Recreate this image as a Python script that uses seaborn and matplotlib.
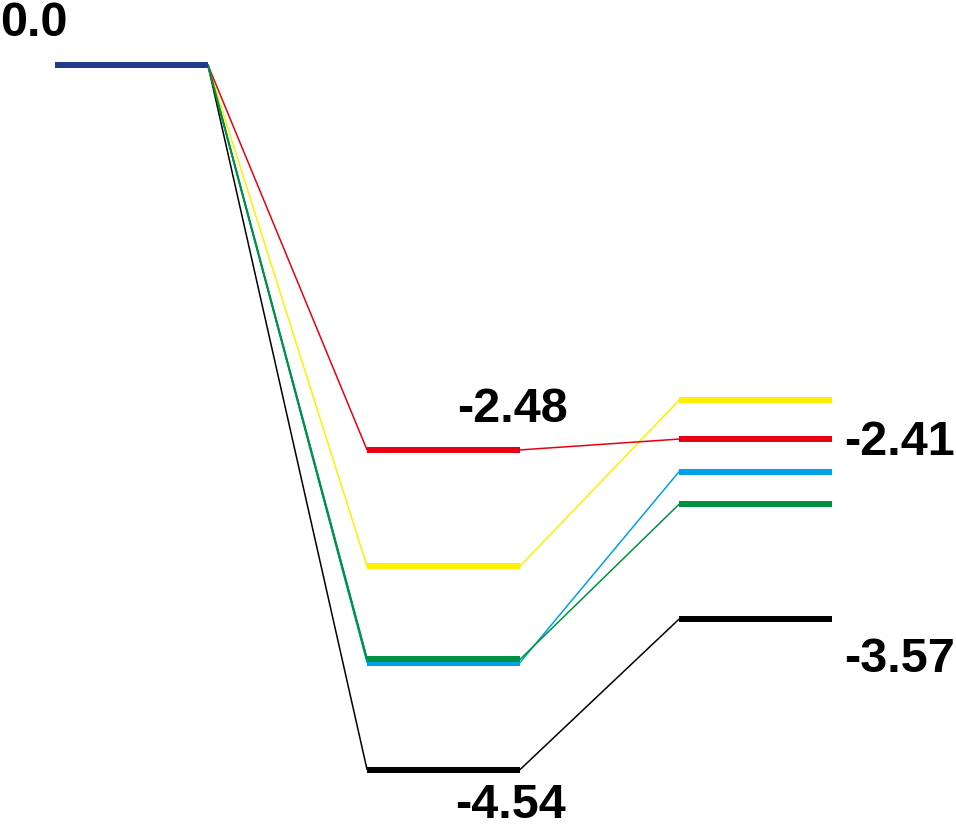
import matplotlib
matplotlib.use("Agg")
import matplotlib.pyplot as plt
import seaborn as sns
import pandas as pd

# energies (eV) per pathway at stage 0,1,2
pathways = ["blue", "black", "green", "yellow", "red"]
stage0 = [0.0, 0.0, 0.0, 0.0, 0.0]
stage1 = [-3.85, -4.54, -3.83, -3.23, -2.48]
stage2 = [-2.62, -3.57, -2.83, -2.16, -2.41]
colors = {"blue": "#00A0E9", "black": "#000000", "green": "#009140",
          "yellow": "#FFF000", "red": "#E60012"}
level0_color = "#1E3A8A"

labels_text = ["0.0", "-2.48", "-4.54", "-2.41", "-3.57"]

sns.set_theme(style="white")
plt.rcParams['font.family'] = ['Liberation Sans Narrow', 'Liberation Sans', 'DejaVu Sans']

fig = plt.figure(figsize=(9.56, 8.26), dpi=100)
ax = fig.add_axes([0, 0, 1, 1])
hw = 0.245

# connectors
rows = []
for p, e0, e1, e2 in zip(pathways, stage0, stage1, stage2):
    rows.append(dict(seg=f"{p}_c1", path=p, x=0 + hw, E=e0))
    rows.append(dict(seg=f"{p}_c1", path=p, x=1 - hw, E=e1))
    rows.append(dict(seg=f"{p}_c2", path=p, x=1 + hw, E=e1))
    rows.append(dict(seg=f"{p}_c2", path=p, x=2 - hw, E=e2))
conn = pd.DataFrame(rows)
sns.lineplot(data=conn, x="x", y="E", hue="path", units="seg", estimator=None,
             palette=colors, linewidth=1.1, legend=False, ax=ax, sort=False)
# green first connector on top of blue
g = conn[conn["seg"] == "green_c1"]
sns.lineplot(data=g, x="x", y="E", color=colors["green"], linewidth=1.5,
             estimator=None, legend=False, ax=ax, sort=False)

# levels
rows = []
for p, e1, e2 in zip(pathways, stage1, stage2):
    rows.append(dict(seg=f"{p}_l1", path=p, x=1 - hw, E=e1))
    rows.append(dict(seg=f"{p}_l1", path=p, x=1 + hw, E=e1))
    rows.append(dict(seg=f"{p}_l2", path=p, x=2 - hw, E=e2))
    rows.append(dict(seg=f"{p}_l2", path=p, x=2 + hw, E=e2))
lev = pd.DataFrame(rows)
sns.lineplot(data=lev, x="x", y="E", hue="path", units="seg", estimator=None,
             palette=colors, linewidth=4.3, legend=False, ax=ax, sort=False,
             solid_capstyle="butt")
ax.plot([0 - hw, 0 + hw], [0.0, 0.0], color=level0_color, lw=4.3, solid_capstyle="butt")

# labels
fs = 35
kw = dict(fontsize=fs, fontweight="bold", va="center", color="black")
ax.text(-0.4215, 0.27, labels_text[0], ha="left", **kw)
ax.text(1.222, -2.22, labels_text[1], ha="center", **kw)
ax.text(1.215, -4.77, labels_text[2], ha="center", **kw)
ax.text(2.285, -2.43, labels_text[3], ha="left", **kw)
ax.text(2.285, -3.83, labels_text[4], ha="left", **kw)

ax.set_xlim(-0.4215, 2.6426)
ax.set_ylim(-4.903, 0.419)
ax.axis("off")
fig.savefig("out.png", dpi=100)
